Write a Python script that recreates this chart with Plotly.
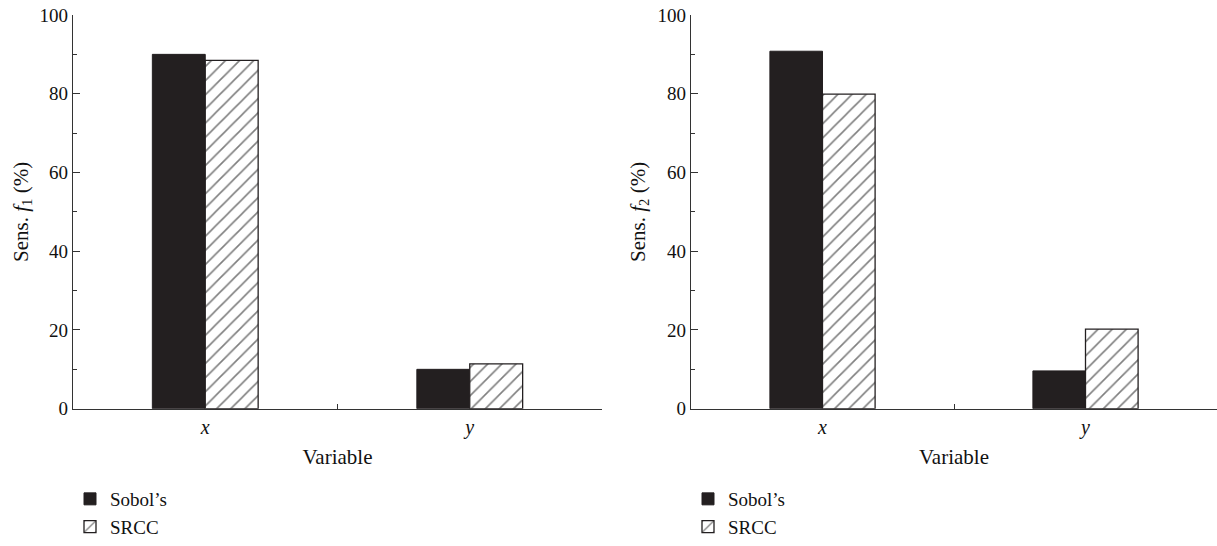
import plotly.graph_objects as go

categories = ["x", "y"]
cat_labels = ["<i>x</i>", "<i>y</i>"]
sobol_f1 = [90.0, 10.0]
srcc_f1 = [88.5, 11.4]
sobol_f2 = [90.8, 9.6]
srcc_f2 = [79.9, 20.2]
series_names = ["Sobol’s", "SRCC"]

FONT = "Liberation Serif"
DARK = "#231f20"
H = 546
FS = 19
FT = 21

fig = go.Figure()

def add_pair(sob, src, xa, ya, leg):
    fig.add_trace(go.Bar(x=categories, y=sob, name=series_names[0], xaxis=xa, yaxis=ya,
                         marker=dict(color=DARK, line=dict(color=DARK, width=1)),
                         legend=leg))
    fig.add_trace(go.Bar(x=categories, y=src, name=series_names[1], xaxis=xa, yaxis=ya,
                         marker=dict(color="white", line=dict(color=DARK, width=1.3),
                                     pattern=dict(shape="/", fgcolor="#000", bgcolor="white",
                                                  size=10, solidity=0.16)),
                         legend=leg))

add_pair(sobol_f1, srcc_f1, "x", "y", "legend")
add_pair(sobol_f2, srcc_f2, "x2", "y2", "legend2")

ydom = [1 - 408.7 / H, 1 - 15 / H]

xcommon = dict(type="category", categoryorder="array", categoryarray=categories,
               tickvals=categories, ticktext=cat_labels, automargin=False,
               range=[-0.5, 1.5], tickson="boundaries", ticks="inside", ticklen=5,
               tickcolor="#333", showline=True, linecolor="#333", linewidth=1.2,
               showgrid=False, zeroline=False,
               tickfont=dict(family=FONT, size=FS + 1, color="#111"),
               title=dict(text="Variable", font=dict(family=FONT, size=FT, color="#111"), standoff=11))
ycommon = dict(range=[0, 100], dtick=20, ticks="inside", ticklen=7, tickcolor="#333",
               showline=True, linecolor="#333", linewidth=1.2, showgrid=False, zeroline=False,
               automargin=False,
               minor=dict(dtick=10, ticks="inside", ticklen=4, tickcolor="#333", showgrid=False),
               tickfont=dict(family=FONT, size=FS, color="#111"), domain=ydom)

legcommon = dict(xanchor="left", yanchor="bottom", y=0,
                 font=dict(family=FONT, size=FS, color="#111"), bgcolor="rgba(0,0,0,0)",
                 tracegroupgap=0, itemwidth=30)

fig.update_layout(
    width=1217, height=546,
    margin=dict(l=0, r=0, t=0, b=0),
    paper_bgcolor="white", plot_bgcolor="white",
    barmode="group", bargap=0.6, bargroupgap=0,
    font=dict(family=FONT, size=FS, color="#111"),
    xaxis=dict(domain=[73 / 1217, 602 / 1217], anchor="y", **xcommon),
    xaxis2=dict(domain=[691 / 1217, 1.0], anchor="y2", **xcommon),
    yaxis=dict(anchor="x", title=dict(text="Sens. <i>f</i><sub>1</sub> (%)", standoff=5,
                                      font=dict(family=FONT, size=FT, color="#111")), **ycommon),
    yaxis2=dict(anchor="x2", title=dict(text="Sens. <i>f</i><sub>2</sub> (%)", standoff=6,
                                        font=dict(family=FONT, size=FT, color="#111")), **ycommon),
    legend=dict(x=70 / 1217, **legcommon),
    legend2=dict(x=688 / 1217, **legcommon),
)

fig.write_html("out.html")
